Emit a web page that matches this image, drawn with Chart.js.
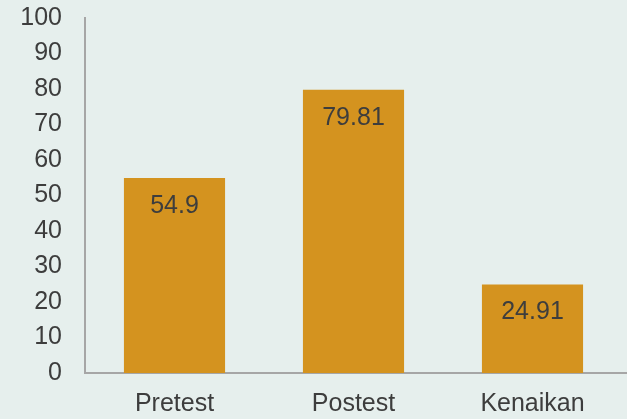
<!DOCTYPE html>
<html>
<head>
<meta charset="utf-8">
<script src="https://cdn.jsdelivr.net/npm/chart.js@4.4.1/dist/chart.umd.min.js"></script>
<style>
  html, body { margin: 0; padding: 0; background: #e6efed; }
  #wrap { width: 627px; height: 419px; }
</style>
</head>
<body>
<div id="wrap"><canvas id="chart" width="627" height="419"></canvas></div>
<script>
const categories = ['Pretest', 'Postest', 'Kenaikan']
const scores = [54.9, 79.81, 24.91]
const valueLabels = ['54.9', '79.81', '24.91']

const textColor = '#3d3d3d'
const axisColor = '#a6a6a6'
Chart.defaults.font.family = '"Liberation Sans", Arial, sans-serif'
Chart.defaults.color = textColor

// draws the value inside each bar, near its top
const barValues = {
  id: 'barValues',
  afterDatasetsDraw(chart) {
    const ctx = chart.ctx
    const meta = chart.getDatasetMeta(0)
    ctx.save()
    ctx.font = '25px "Liberation Sans", Arial, sans-serif'
    ctx.fillStyle = textColor
    ctx.textAlign = 'center'
    ctx.textBaseline = 'middle'
    meta.data.forEach((bar, i) => {
      ctx.fillText(valueLabels[i], bar.x, bar.y + 28)
    })
    ctx.restore()
  }
}

// the x axis line runs on to the right edge of the canvas
const axisTail = {
  id: 'axisTail',
  afterDraw(chart) {
    const { ctx, chartArea } = chart
    const y = Math.round(chartArea.bottom)
    ctx.save()
    ctx.strokeStyle = axisColor
    ctx.lineWidth = 2
    ctx.beginPath()
    ctx.moveTo(chartArea.right - 1, y)
    ctx.lineTo(chart.width, y)
    ctx.stroke()
    ctx.restore()
  }
}

new Chart(document.getElementById('chart'), {
  type: 'bar',
  data: {
    labels: categories,
    datasets: [{
      data: scores,
      backgroundColor: '#d4931f',
      categoryPercentage: 0.565,
      barPercentage: 1
    }]
  },
  options: {
    responsive: false,
    animation: false,
    layout: { padding: { top: 0, right: 5, left: 0, bottom: 0 } },
    plugins: { legend: { display: false }, tooltip: { enabled: false } },
    scales: {
      x: {
        grid: { display: false, drawTicks: false },
        border: { display: true, color: axisColor, width: 2 },
        ticks: { font: { size: 25 }, padding: 16, color: textColor },
        afterFit(scale) {
          scale.height = 46
          scale.paddingLeft = 0
          scale.paddingRight = 0
        }
      },
      y: {
        min: 0,
        max: 100,
        grid: { display: false, drawTicks: false },
        border: { display: true, color: axisColor, width: 2 },
        ticks: { stepSize: 10, font: { size: 25 }, padding: 23, color: textColor },
        afterFit(scale) {
          scale.width = 85
          scale.paddingTop = 18
          scale.paddingBottom = 0
        }
      }
    }
  },
  plugins: [barValues, axisTail]
})
</script>
</body>
</html>
